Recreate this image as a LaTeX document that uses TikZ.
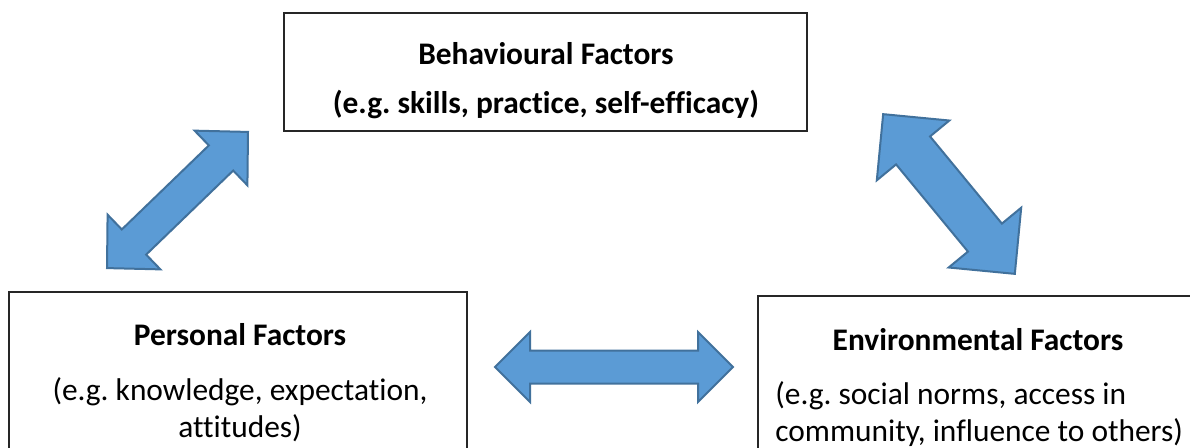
\documentclass[tikz,border=0pt]{standalone}
\usepackage{fontspec}
\setmainfont{Carlito}[Ligatures={NoCommon}]
\usetikzlibrary{fit}
\definecolor{arrowfill}{HTML}{5B9BD5}
\definecolor{arrowline}{HTML}{41719C}
\definecolor{boxline}{HTML}{262626}
\newcommand{\dblarr}[4]{%
  \draw[blockarrow] (-#1/2,0) -- (-#1/2+#4,#2/2) -- (-#1/2+#4,#3/2) -- (#1/2-#4,#3/2) -- (#1/2-#4,#2/2) -- (#1/2,0) -- (#1/2-#4,-#2/2) -- (#1/2-#4,-#3/2) -- (-#1/2+#4,-#3/2) -- (-#1/2+#4,-#2/2) -- cycle;}
\tikzset{
  box/.style={draw=boxline, line width=0.75pt, inner sep=0pt, fill=none},
  blockarrow/.style={fill=arrowfill, draw=arrowline, line width=1pt, line join=miter},
  txt/.style={inner sep=0pt, anchor=base, font=\fontsize{15.7}{18.8}\selectfont},
  btxt/.style={txt, font=\fontsize{15.7}{18.8}\selectfont\bfseries},
}
\frenchspacing
\begin{document}
\frenchspacing
\begin{tikzpicture}[x=0.5pt, y=-0.5pt]
\useasboundingbox (0,0) rectangle (1190,447);
\clip (0,0) rectangle (1190,447);
\fill[white] (0,0) rectangle (1190,447);
% boxes
\node[box, fit={(284,13) (807,131)}] (beh) {};
\node[box, fit={(9,292) (467,470)}] (pers) {};
\node[box, fit={(758,296) (1210,470)}] (env) {};
% texts
\node[btxt] (behT) at (546,64) {Behavioural Factors};
\node[btxt] (behS) at (546,113) {(e.g. skills, practice, self-efficacy)};
\node[btxt] (persT) at (240,345) {Personal Factors};
\node[txt] (persS1) at (240,400) {(e.g. knowledge, expectation,};
\node[txt] (persS2) at (240,437) {attitudes)};
\node[btxt] (envT) at (978,350) {Environmental Factors};
\node[txt, anchor=base west] (envS1) at (775,404) {(e.g. social norms, access in};
\node[txt, anchor=base west] (envS2) at (775,441) {community, influence to others)};
% block arrows
\begin{scope}[shift={(177.5,200)}, rotate=44]
  \dblarr{196}{76}{35}{37.5}
\end{scope}
\begin{scope}[shift={(949,194)}, rotate=-50.5]
  \dblarr{207}{94}{44}{47}
\end{scope}
\begin{scope}[shift={(614,367)}]
  \dblarr{238}{70}{33}{35}
\end{scope}
\end{tikzpicture}
\end{document}
